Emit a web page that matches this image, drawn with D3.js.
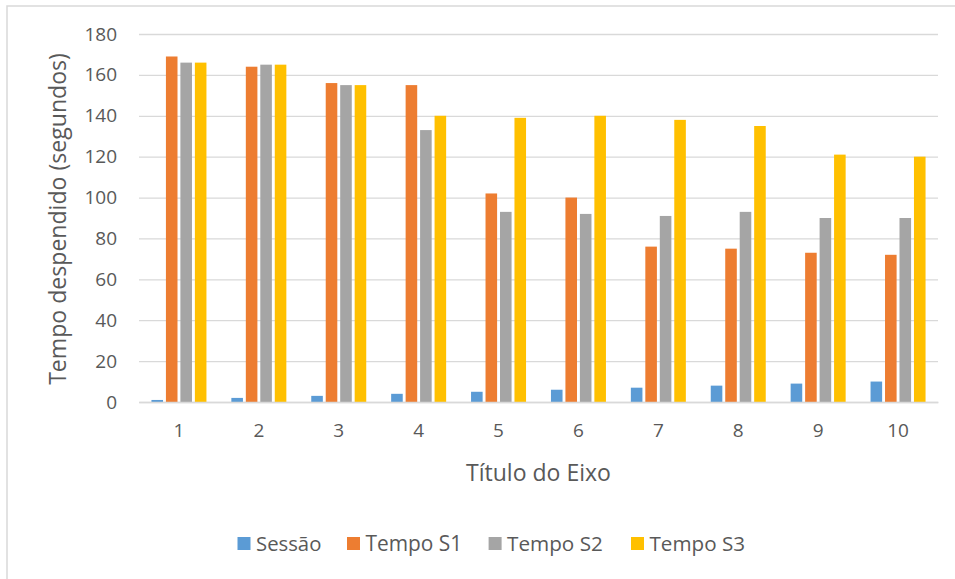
<!DOCTYPE html>
<html><head><meta charset="utf-8">
<script src="https://cdn.jsdelivr.net/npm/d3@7"></script>
<style>
html,body{margin:0;padding:0;background:#fff;}
svg{display:block;font-family:"Open Sans",sans-serif;}
</style></head>
<body>
<svg id="c" width="955" height="579"></svg>
<script>
const categories = ["1","2","3","4","5","6","7","8","9","10"];
const seriesNames = ["Sessão","Tempo S1","Tempo S2","Tempo S3"];
const sessao  = [1,2,3,4,5,6,7,8,9,10];
const tempoS1 = [169,164,156,155,102,100,76,75,73,72];
const tempoS2 = [166,165,155,133,93,92,91,93,90,90];
const tempoS3 = [166,165,155,140,139,140,138,135,121,120];
const yTicks = [0,20,40,60,80,100,120,140,160,180];
const colors = ["#5B9BD5","#ED7D31","#A5A5A5","#FFC000"];
const seriesValues = [sessao, tempoS1, tempoS2, tempoS3];

const svg = d3.select("#c");
const textColor = "#595959";

// chart border
svg.append("rect").attr("x",7).attr("y",6).attr("width",1000).attr("height",1000)
  .attr("fill","#fff").attr("stroke","#D9D9D9").attr("stroke-width",1.5);

const pLeft = 139, pRight = 938, pTop = 34, pBottom = 402;
const x0 = d3.scaleBand().domain(categories).range([pLeft,pRight]).paddingInner(0.3117).paddingOuter(0.3117/2);
const x1 = d3.scaleBand().domain(seriesNames).range([0,x0.bandwidth()]).paddingInner(0.2);
const y = d3.scaleLinear().domain([0,180]).range([pBottom,pTop]);

// gridlines
const yAxis = d3.axisLeft(y).tickValues(yTicks).tickSize(-(pRight-pLeft)).tickPadding(22).tickFormat(d3.format("d"));
const gy = svg.append("g").attr("transform",`translate(${pLeft},0)`).call(yAxis);
gy.select(".domain").remove();
gy.selectAll(".tick line").attr("stroke","#D9D9D9").attr("stroke-width",1.3);
gy.selectAll(".tick text").attr("fill",textColor).attr("font-size",19).attr("font-family","'Open Sans',sans-serif");

// bars
const data = categories.map((c,i)=>({cat:c, vals: seriesNames.map((s,j)=>({s, v: seriesValues[j][i], color: colors[j]}))}));
const groups = svg.append("g").selectAll("g").data(data).join("g")
  .attr("transform",d=>`translate(${x0(d.cat)},0)`);
groups.selectAll("rect").data(d=>d.vals).join("rect")
  .attr("x",d=>x1(d.s)).attr("width",x1.bandwidth())
  .attr("y",d=>y(d.v)).attr("height",d=>y(0)-y(d.v))
  .attr("fill",d=>d.color);

// x axis
const xAxis = d3.axisBottom(x0).tickSize(0).tickPadding(22);
const gx = svg.append("g").attr("transform",`translate(0,${pBottom})`).call(xAxis);
gx.select(".domain").attr("stroke","#D9D9D9").attr("stroke-width",1.3);
gx.selectAll(".tick text").attr("fill",textColor).attr("font-size",19).attr("font-family","'Open Sans',sans-serif");

function fit(sel, target){
  const w = sel.node().getComputedTextLength();
  const fs = parseFloat(sel.attr("font-size"));
  sel.attr("font-size", fs*target/w);
}

// axis titles
const xt = svg.append("text").attr("x",538.5).attr("y",481).attr("text-anchor","middle")
  .attr("fill",textColor).attr("font-size",21).text("Título do Eixo");
fit(xt,145);
const yt = svg.append("text").attr("transform","translate(65.5,219) rotate(-90)").attr("text-anchor","middle")
  .attr("fill",textColor).attr("font-size",22).text("Tempo despendido (segundos)");
fit(yt,332);

// legend
const legX = [237.5,347,488.6,631];
const legW = [65.4,96.8,95.8,95.6];
const lg = svg.append("g");
seriesNames.forEach((s,i)=>{
  lg.append("rect").attr("x",legX[i]).attr("y",537).attr("width",13).attr("height",13).attr("fill",colors[i]);
  const t = lg.append("text").attr("x",legX[i]+18.5).attr("y",550.5).attr("fill",textColor).attr("font-size",20).text(s);
  fit(t,legW[i]);
});
</script>
</body></html>
